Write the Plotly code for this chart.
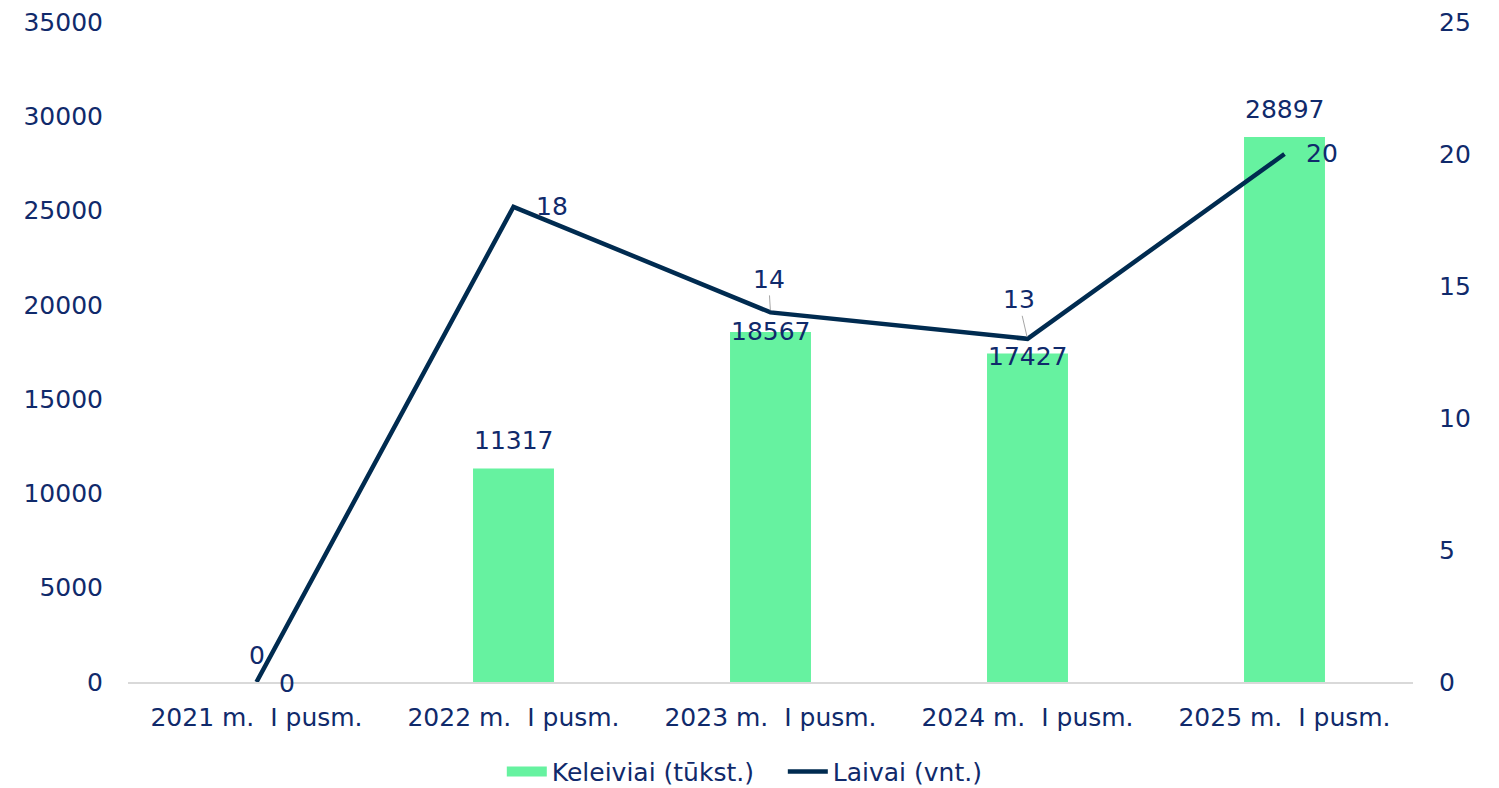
import plotly.graph_objects as go

categories = ["2021 m.\u00a0 I pusm.", "2022 m.\u00a0 I pusm.", "2023 m.\u00a0 I pusm.",
              "2024 m.\u00a0 I pusm.", "2025 m.\u00a0 I pusm."]
passengers = [0, 11317, 18567, 17427, 28897]   # Keleiviai (tūkst.)
ships = [0, 18, 14, 13, 20]                      # Laivai (vnt.)
left_ticks = [0, 5000, 10000, 15000, 20000, 25000, 30000, 35000]
right_ticks = [0, 5, 10, 15, 20, 25]

TXT = "#102a6b"
FONT = "DejaVu Sans"
FS = 25
BAR = "#66f2a0"
LINE = "#002b50"

fig = go.Figure()
fig.add_trace(go.Bar(x=categories, y=passengers, name="Keleiviai (tūkst.)",
                     marker=dict(color=BAR, line=dict(width=0)), width=0.315,
                     yaxis="y", showlegend=False))
# legend swatch for the bars (wide rectangle like the original)
fig.add_trace(go.Scatter(x=[None], y=[None], name="Keleiviai (tūkst.)\u00a0\u00a0\u00a0",
                         mode="lines", line=dict(color=BAR, width=15), showlegend=True,
                         hoverinfo="skip"))
fig.add_trace(go.Scatter(x=categories, y=ships, name="Laivai (vnt.)", mode="lines",
                         line=dict(color=LINE, width=4.5), yaxis="y2"))

ann = []
bar_off = [(0, 27), (0, 28), (0, 0), (0, -3), (0, 28)]
for c, v, (dx, dy) in zip(categories, passengers, bar_off):
    ann.append(dict(x=c, y=v, xref="x", yref="y", text=str(v), showarrow=False,
                    xshift=dx, yshift=dy, font=dict(size=FS, color=TXT, family=FONT)))
line_off = {0: (30, -1), 1: (38, 0), 4: (37, 1)}
for i, (dx, dy) in line_off.items():
    ann.append(dict(x=categories[i], y=ships[i], xref="x", yref="y2", text=str(ships[i]),
                    showarrow=False, xshift=dx, yshift=dy,
                    font=dict(size=FS, color=TXT, family=FONT)))
for i, (ax, ay) in {2: (-2, -33), 3: (-9, -39)}.items():
    ann.append(dict(x=categories[i], y=ships[i], xref="x", yref="y2", text=str(ships[i]),
                    showarrow=True, arrowhead=0, arrowwidth=1, arrowcolor="#a6a6a6",
                    ax=ax, ay=ay, standoff=2, startstandoff=0,
                    font=dict(size=FS, color=TXT, family=FONT)))

# the page body has an 8px margin, so the figure is sized/offset to compensate
fig.update_layout(
    width=1491, height=780,
    margin=dict(l=120, r=86, t=14, b=106, autoexpand=False),
    paper_bgcolor="white", plot_bgcolor="white",
    font=dict(family=FONT, size=FS, color=TXT),
    showlegend=True,
    legend=dict(orientation="h", x=0.48, xanchor="center", y=-0.136, yanchor="middle",
                font=dict(size=FS, color=TXT, family=FONT), itemwidth=40,
                traceorder="normal"),
    annotations=ann,
    xaxis=dict(type="category", showgrid=False, showline=True, linecolor="#d9d9d9",
               linewidth=2, ticks="", tickfont=dict(size=FS, color=TXT),
               ticklabelstandoff=12, zeroline=False, automargin=False),
    yaxis=dict(range=[0, 35000], tickvals=left_ticks, ticktext=[str(t) for t in left_ticks],
               showgrid=False, zeroline=False, showline=False, automargin=False,
               ticklabeloverflow="allow",
               tickfont=dict(size=FS, color=TXT), ticklabelstandoff=24),
    yaxis2=dict(range=[0, 25], tickvals=right_ticks, ticktext=[str(t) for t in right_ticks],
                overlaying="y", side="right", automargin=False,
                ticklabeloverflow="allow",
                showgrid=False, zeroline=False, showline=False,
                tickfont=dict(size=FS, color=TXT), ticklabelstandoff=25),
)

fig.write_html("out.html")
